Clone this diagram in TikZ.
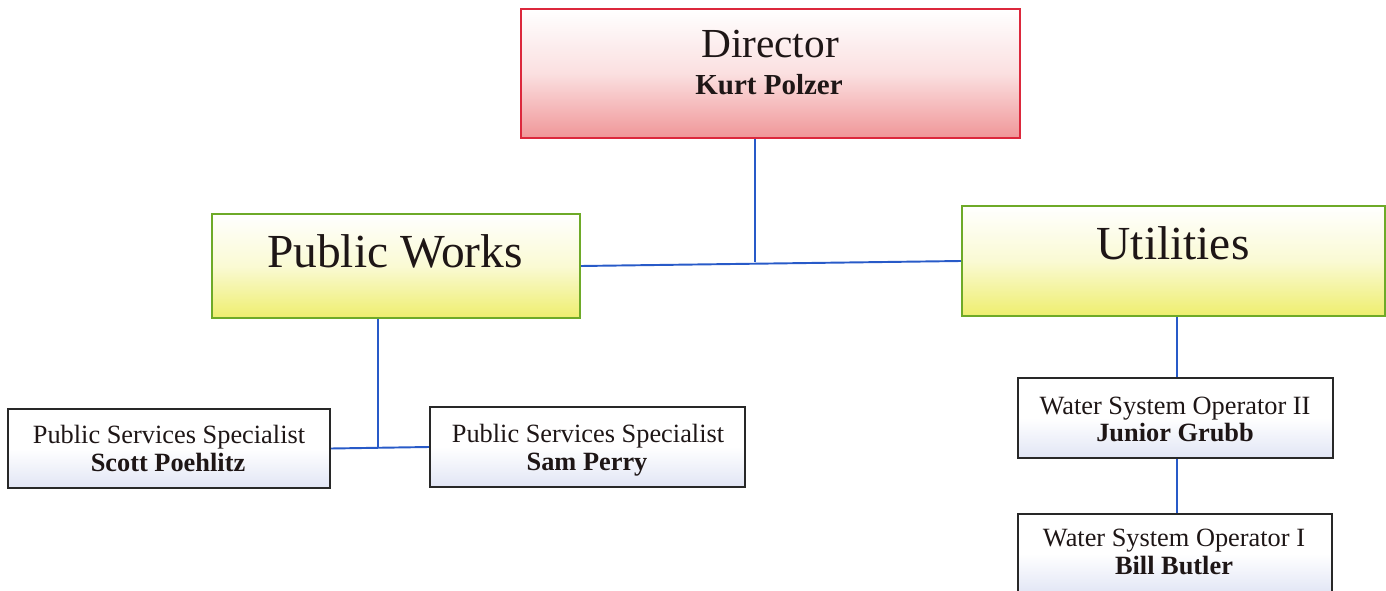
\documentclass[tikz,border=0pt]{standalone}
\usepackage{fontspec}
\setmainfont{Liberation Serif}
\definecolor{dirpink}{RGB}{240,150,152}
\definecolor{dirred}{RGB}{220,40,60}
\definecolor{pwyellow}{RGB}{238,238,110}
\definecolor{pwgreen}{RGB}{110,170,40}
\definecolor{linkblue}{RGB}{40,90,200}
\definecolor{boxline}{RGB}{40,40,40}
\definecolor{blurblue}{RGB}{205,212,238}
\definecolor{ink}{RGB}{30,22,22}
\begin{document}
\begin{tikzpicture}[x=0.02cm,y=-0.02cm,
  box/.style={draw, inner sep=0pt, anchor=center},
  dirbox/.style={box, draw=dirred, line width=1.4pt, top color=white, bottom color=dirpink, middle color=dirpink!30},
  deptbox/.style={box, draw=pwgreen, line width=1.2pt, top color=white, bottom color=pwyellow, middle color=pwyellow!30},
  staffbox/.style={box, draw=boxline, line width=1.3pt, top color=white, bottom color=blurblue!60, middle color=white},
  txt/.style={anchor=base, inner sep=0pt, text=ink},
  small/.style={txt, font=\fontsize{15}{16}\selectfont},
  smallb/.style={txt, font=\fontsize{15}{16}\selectfont\bfseries},
  big/.style={txt, font=\fontsize{27}{30}\selectfont},
  link/.style={draw=linkblue, line width=1.1pt}]
\useasboundingbox (0,0) rectangle (1386,591);
% boxes
\node[dirbox, minimum width=9.98cm, minimum height=2.58cm] (dir) at (770.5,73.5) {};
\node[deptbox, minimum width=7.36cm, minimum height=2.08cm] (pw) at (396,266) {};
\node[deptbox, minimum width=8.46cm, minimum height=2.2cm] (ut) at (1173.5,261) {};
\node[staffbox, minimum width=6.44cm, minimum height=1.58cm] (scott) at (169,448.5) {};
\node[staffbox, minimum width=6.3cm, minimum height=1.6cm] (sam) at (587.5,447) {};
\node[staffbox, minimum width=6.3cm, minimum height=1.6cm] (wsoii) at (1175.5,418) {};
\node[staffbox, minimum width=6.28cm, minimum height=1.6cm] (wsoi) at (1175,554) {};
% texts
\node[txt, font=\fontsize{23.5}{26}\selectfont] (dirt) at (770,58) {Director};
\node[txt, font=\fontsize{16.5}{18}\selectfont\bfseries] (dirn) at (769,95) {Kurt Polzer};
\node[big] (pwt) at (395,268) {Public Works};
\node[big] (utt) at (1173,259) {Utilities};
\node[small] (scottt) at (169,443) {Public Services Specialist};
\node[smallb] (scottn) at (168,471) {Scott Poehlitz};
\node[small] (samt) at (588,442) {Public Services Specialist};
\node[smallb] (samn) at (587,470) {Sam Perry};
\node[small] (wsoiit) at (1175,414) {Water System Operator II};
\node[smallb] (wsoiin) at (1175,441) {Junior Grubb};
\node[small] (wsoit) at (1174,546) {Water System Operator I};
\node[smallb] (wsoin) at (1174,574) {Bill Butler};
% connectors
\coordinate (j1) at (755,262);
\coordinate (j2) at (378,447);
\coordinate (j3) at (1177,0);
\draw[link] (dir.south -| j1) -- (j1);
\draw[link] (pw.east) -- (ut.west);
\draw[link] (pw.south -| j2) -- (j2);
\draw[link] (scott.east) -- (sam.west);
\draw[link] (ut.south -| j3) -- (wsoii.north -| j3);
\draw[link] (wsoii.south -| j3) -- (wsoi.north -| j3);
\end{tikzpicture}
\end{document}
